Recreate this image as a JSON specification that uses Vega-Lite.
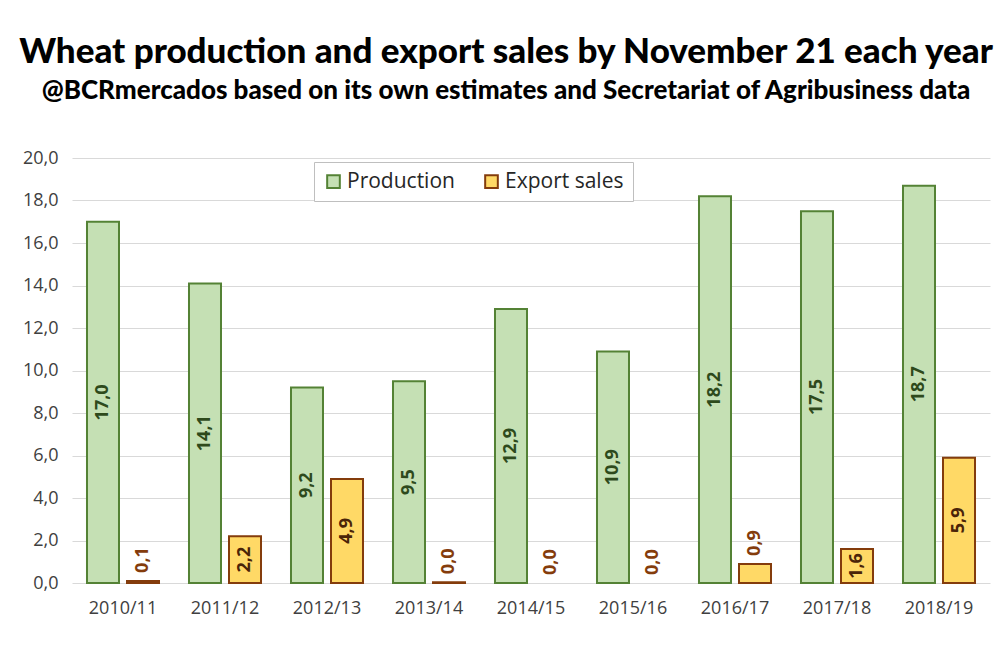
{
  "$schema": "https://vega.github.io/schema/vega-lite/v6.json",
  "width": 918,
  "height": 425,
  "autosize": {"type": "none"},
  "padding": {"left": 72, "top": 158, "right": 8, "bottom": 69},
  "background": "white",
  "config": {
    "locale": {"number": {"decimal": ",", "thousands": ".", "grouping": [3], "currency": ["", " €"]}},
    "view": {"stroke": null},
    "font": "Open Sans"
  },
  "title": {
    "text": "Wheat production and export sales by November 21 each year",
    "subtitle": "@BCRmercados based on its own estimates and Secretariat of Agribusiness data",
    "anchor": "middle",
    "frame": "group",
    "dx": -25,
    "offset": 45,
    "font": "Lato",
    "fontWeight": 900,
    "fontSize": 35,
    "color": "#000000",
    "subtitleFont": "Lato",
    "subtitleFontWeight": 900,
    "subtitleFontSize": 26,
    "subtitleColor": "#000000",
    "subtitlePadding": 8
  },
  "data": {
    "values": [
      {"season": "2010/11", "series": "Production", "value": 17.0},
      {"season": "2011/12", "series": "Production", "value": 14.1},
      {"season": "2012/13", "series": "Production", "value": 9.2},
      {"season": "2013/14", "series": "Production", "value": 9.5},
      {"season": "2014/15", "series": "Production", "value": 12.9},
      {"season": "2015/16", "series": "Production", "value": 10.9},
      {"season": "2016/17", "series": "Production", "value": 18.2},
      {"season": "2017/18", "series": "Production", "value": 17.5},
      {"season": "2018/19", "series": "Production", "value": 18.7},
      {"season": "2010/11", "series": "Export sales", "value": 0.1},
      {"season": "2011/12", "series": "Export sales", "value": 2.2},
      {"season": "2012/13", "series": "Export sales", "value": 4.9},
      {"season": "2013/14", "series": "Export sales", "value": 0.04},
      {"season": "2014/15", "series": "Export sales", "value": 0.0},
      {"season": "2015/16", "series": "Export sales", "value": 0.0},
      {"season": "2016/17", "series": "Export sales", "value": 0.9},
      {"season": "2017/18", "series": "Export sales", "value": 1.6},
      {"season": "2018/19", "series": "Export sales", "value": 5.9}
    ]
  },
  "encoding": {
    "x": {
      "field": "season", "type": "nominal", "sort": null,
      "scale": {"paddingInner": 0.294, "paddingOuter": 0.147},
      "axis": {"title": null, "labelAngle": 0, "ticks": false, "domain": false, "labelPadding": 16, "labelFont": "Open Sans", "labelFontSize": 18, "labelColor": "#404040"}
    },
    "xOffset": {"field": "series", "type": "nominal", "sort": ["Production", "Export sales"], "scale": {"paddingInner": 0.2, "paddingOuter": 0}}
  },
  "layer": [
    {
      "mark": {"type": "bar", "strokeWidth": 2},
      "encoding": {
        "y": {
          "field": "value", "type": "quantitative",
          "scale": {"domain": [0, 20]},
          "axis": {"title": null, "values": [0, 2, 4, 6, 8, 10, 12, 14, 16, 18, 20], "format": ".1f", "ticks": false, "domain": false, "gridColor": "#d9d9d9", "gridWidth": 1, "labelPadding": 14, "labelFont": "Open Sans", "labelFontSize": 18, "labelColor": "#404040"}
        },
        "fill": {
          "field": "series", "type": "nominal",
          "scale": {"domain": ["Production", "Export sales"], "range": ["#c5e0b4", "#ffd966"]},
          "legend": {"title": null, "orient": "none", "legendX": 242, "legendY": 4, "direction": "horizontal", "symbolType": "square", "symbolSize": 160, "symbolStrokeWidth": 2, "labelFont": "Open Sans", "labelFontSize": 21, "labelColor": "#262626", "labelOffset": 3, "columnPadding": 26, "padding": 9, "strokeColor": "#bfbfbf", "fillColor": "white"}
        },
        "stroke": {
          "field": "series", "type": "nominal",
          "scale": {"domain": ["Production", "Export sales"], "range": ["#548235", "#843c0c"]},
          "legend": {"title": null, "orient": "none", "legendX": 242, "legendY": 4, "direction": "horizontal", "symbolType": "square", "symbolSize": 160, "symbolStrokeWidth": 2, "labelFont": "Open Sans", "labelFontSize": 21, "labelColor": "#262626", "labelOffset": 3, "columnPadding": 26, "padding": 9, "strokeColor": "#bfbfbf", "fillColor": "white"}
        },
        "strokeOpacity": {"condition": {"test": "datum.value > 0", "value": 1}, "value": 0}
      }
    },
    {
      "transform": [{"filter": "datum.value >= 1"}, {"calculate": "datum.value / 2", "as": "mid"}],
      "mark": {"type": "text", "angle": -90, "align": "center", "baseline": "middle", "font": "Open Sans", "fontWeight": "bold", "fontSize": 18},
      "encoding": {
        "y": {"field": "mid", "type": "quantitative"},
        "text": {"field": "value", "type": "quantitative", "format": ".1f"},
        "color": {"field": "series", "type": "nominal", "scale": {"domain": ["Production", "Export sales"], "range": ["#2e4a1c", "#4a2408"]}, "legend": null}
      }
    },
    {
      "transform": [{"filter": "datum.value < 1"}],
      "mark": {"type": "text", "angle": -90, "align": "left", "baseline": "middle", "dx": 8, "font": "Open Sans", "fontWeight": "bold", "fontSize": 18, "color": "#843c0c"},
      "encoding": {
        "y": {"field": "value", "type": "quantitative"},
        "text": {"field": "value", "type": "quantitative", "format": ".1f"}
      }
    }
  ],
  "resolve": {"scale": {"color": "independent"}}
}
